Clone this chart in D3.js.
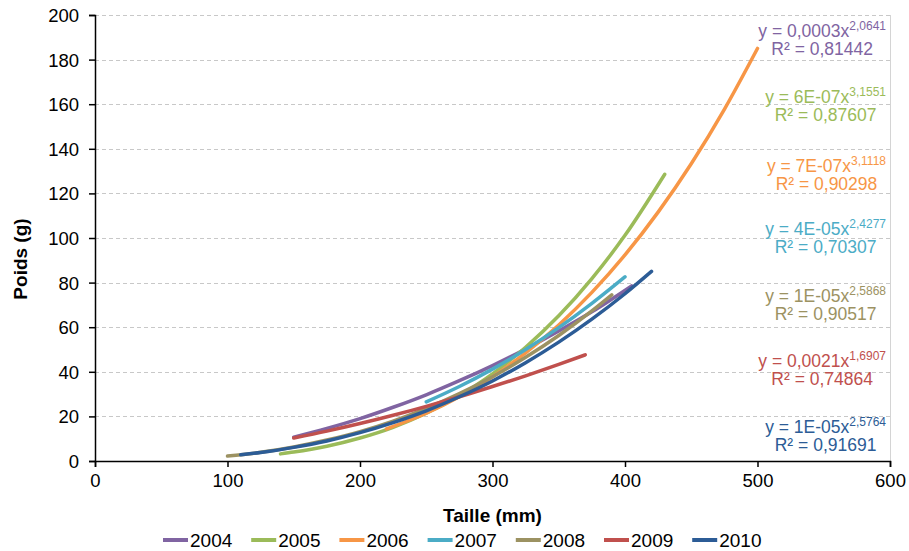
<!DOCTYPE html>
<html>
<head>
<meta charset="utf-8">
<script src="https://cdn.jsdelivr.net/npm/d3@7"></script>
<style>
  body { margin: 0; background: #fff; }
  text { font-family: "Liberation Sans", Arial, sans-serif; }
</style>
</head>
<body>
<div class="graph-section"></div>
<script>
// series names and colours
var years = ["2004", "2005", "2006", "2007", "2008", "2009", "2010"];
var colors = ["#8064A2", "#9BBB59", "#F79646", "#4BACC6", "#9C9262", "#C0504D", "#2C5C96"];

// points: taille (mm) / poids (g)
var taille2004 = [150, 175, 200, 225, 250, 275, 300, 325, 350, 375, 405];
var poids2004  = [10.7, 14.6, 19.0, 24.1, 29.7, 36.0, 42.8, 50.2, 58.3, 66.9, 78.5];

var taille2005 = [140, 150, 175, 200, 225, 250, 275, 300, 325, 350, 375, 400, 430];
var poids2005  = [3.2, 4.0, 6.6, 10.3, 15.1, 21.4, 29.4, 39.1, 51.0, 65.1, 81.8, 101.2, 128.6];

var taille2006 = [220, 250, 275, 300, 325, 350, 375, 400, 425, 450, 475, 500];
var poids2006  = [14.4, 21.4, 28.8, 37.8, 48.5, 61.0, 75.6, 92.4, 111.6, 133.3, 157.7, 185.0];

var taille2007 = [250, 275, 300, 325, 350, 375, 400];
var poids2007  = [26.5, 33.4, 41.2, 50.0, 59.8, 70.7, 82.6];

var taille2008 = [100, 125, 150, 175, 200, 225, 250, 275, 300, 325, 350, 375, 390];
var poids2008  = [2.2, 3.9, 6.3, 9.4, 13.2, 17.9, 23.6, 30.2, 37.8, 46.5, 56.3, 67.3, 74.5];

var taille2009 = [150, 175, 200, 225, 250, 275, 300, 325, 350, 370];
var poids2009  = [10.3, 13.4, 16.8, 20.5, 24.5, 28.8, 33.4, 38.2, 43.3, 47.6];

var taille2010 = [110, 125, 150, 175, 200, 225, 250, 275, 300, 325, 350, 375, 400, 420];
var poids2010  = [2.8, 3.8, 6.1, 9.0, 12.7, 17.2, 22.5, 28.8, 35.9, 44.1, 53.3, 63.6, 75.0, 85.0];

// trendline labels
var eqCoef = ["0,0003", "6E-07", "7E-07", "4E-05", "1E-05", "0,0021", "1E-05"];
var eqExp  = ["2,0641", "3,1551", "3,1118", "2,4277", "2,5868", "1,6907", "2,5764"];
var rSquared = ["0,81442", "0,87607", "0,90298", "0,70307", "0,90517", "0,74864", "0,91691"];

var xTicks = [0, 100, 200, 300, 400, 500, 600];
var yTicks = [0, 20, 40, 60, 80, 100, 120, 140, 160, 180, 200];

var series = [
  {taille: taille2004, poids: poids2004},
  {taille: taille2005, poids: poids2005},
  {taille: taille2006, poids: poids2006},
  {taille: taille2007, poids: poids2007},
  {taille: taille2008, poids: poids2008},
  {taille: taille2009, poids: poids2009},
  {taille: taille2010, poids: poids2010}
].map(function(s, i){
  return {
    name: years[i],
    color: colors[i],
    coef: eqCoef[i],
    exp: eqExp[i],
    r2: rSquared[i],
    points: s.taille.map(function(t, j){ return [t, s.poids[j]]; })
  };
});

var screen = {width: 909, height: 551};
var margins = {top: 15, left: 95, right: 19, bottom: 90};

var graphWidth = screen.width - margins.left - margins.right;
var graphHeight = screen.height - margins.top - margins.bottom;

var xScale = d3.scaleLinear().domain([0, 600]).range([0, graphWidth]);
var yScale = d3.scaleLinear().domain([0, 200]).range([graphHeight, 0]);

var svg = d3.select(".graph-section")
  .append("svg")
  .attr("width", screen.width)
  .attr("height", screen.height);

var plot = svg.append("g")
  .attr("transform", "translate(" + margins.left + "," + margins.top + ")");

// gridlines
plot.selectAll(".grid")
  .data(yTicks.slice(1))
  .enter()
  .append("line")
  .attr("x1", 0)
  .attr("x2", graphWidth)
  .attr("y1", function(d){ return Math.round(yScale(d)) + 0.5; })
  .attr("y2", function(d){ return Math.round(yScale(d)) + 0.5; })
  .attr("stroke", "#c8c8c8")
  .attr("stroke-width", 1)
  .attr("stroke-dasharray", "4,3");

// right border of plot area
plot.append("line")
  .attr("x1", graphWidth + 0.5).attr("x2", graphWidth + 0.5)
  .attr("y1", 0).attr("y2", graphHeight)
  .attr("stroke", "#d4d4d4");

// curves
var line = d3.line()
  .x(function(d){ return xScale(d[0]); })
  .y(function(d){ return yScale(d[1]); })
  .curve(d3.curveMonotoneX);

plot.selectAll(".curve")
  .data(series)
  .enter()
  .append("path")
  .attr("d", function(d){ return line(d.points); })
  .attr("fill", "none")
  .attr("stroke", function(d){ return d.color; })
  .attr("stroke-width", 3.5)
  .attr("stroke-linecap", "round");

// axes
var xAxis = d3.axisBottom(xScale).tickValues(xTicks).tickSizeOuter(0).tickSize(6).tickPadding(7);
var yAxis = d3.axisLeft(yScale).tickValues(yTicks).tickSizeOuter(0).tickSize(6).tickPadding(10);

var gx = plot.append("g")
  .attr("transform", "translate(0," + graphHeight + ")")
  .call(xAxis);
var gy = plot.append("g").call(yAxis);

[gx, gy].forEach(function(g){
  g.selectAll("path, line").attr("stroke", "#000").attr("stroke-width", 1.5);
  g.selectAll("text")
    .attr("fill", "#000")
    .style("font-size", "18.5px")
    .style("font-family", "'Liberation Sans', Arial, sans-serif");
});
gy.selectAll("text").attr("dy", "0.35em");

// axis titles
svg.append("text")
  .attr("x", margins.left + xScale(300))
  .attr("y", 522)
  .attr("text-anchor", "middle")
  .style("font-size", "19px")
  .style("font-weight", "bold")
  .text("Taille (mm)");

svg.append("text")
  .attr("transform", "translate(27,259) rotate(-90)")
  .attr("text-anchor", "middle")
  .style("font-size", "19px")
  .style("font-weight", "bold")
  .text("Poids (g)");

// trendline equations
var labelY = [37, 103, 172, 235, 302, 367, 433];
var labels = svg.selectAll(".eq")
  .data(series)
  .enter()
  .append("g")
  .attr("fill", function(d){ return d.color; });

labels.each(function(d, i){
  var g = d3.select(this);
  var eq = g.append("text")
    .attr("x", 886)
    .attr("y", labelY[i])
    .attr("text-anchor", "end")
    .style("font-size", "17.5px");
  eq.append("tspan").text("y = " + d.coef + "x");
  eq.append("tspan")
    .attr("dy", -7)
    .style("font-size", "12px")
    .text(d.exp);
  var w = eq.node().getComputedTextLength();
  g.append("text")
    .attr("x", 886 - w / 2)
    .attr("y", labelY[i] + 18)
    .attr("text-anchor", "middle")
    .style("font-size", "17.5px")
    .text("R\u00b2 = " + d.r2);
});

// legend
var legend = svg.append("g")
  .attr("transform", "translate(163,540)");

var items = legend.selectAll("g")
  .data(series)
  .enter()
  .append("g")
  .attr("transform", function(d, i){ return "translate(" + (i * 88.2) + ",0)"; });

items.append("line")
  .attr("x1", 0).attr("x2", 25)
  .attr("y1", 0).attr("y2", 0)
  .attr("stroke", function(d){ return d.color; })
  .attr("stroke-width", 4);

items.append("text")
  .attr("x", 27)
  .attr("y", 6.5)
  .style("font-size", "19px")
  .attr("fill", "#000")
  .text(function(d){ return d.name; });
</script>
</body>
</html>
